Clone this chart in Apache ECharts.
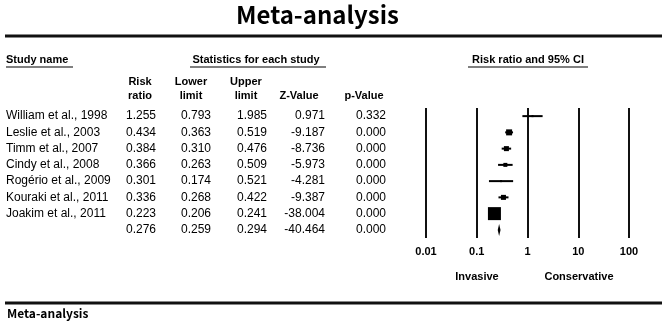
<!DOCTYPE html>
<html>
<head>
<meta charset="utf-8">
<script src="https://cdn.jsdelivr.net/npm/echarts@6/dist/echarts.min.js"></script>
<style>
  html, body { margin: 0; padding: 0; background: #fff; }
  #forest { width: 666px; height: 327px; }
</style>
</head>
<body>
<div id="forest"></div>
<script>
// forest plot: risk ratio and 95% CI per study
const studies = ['William et al., 1998', 'Leslie et al., 2003', 'Timm et al., 2007', 'Cindy et al., 2008',
  'Rogério et al., 2009', 'Kouraki et al., 2011', 'Joakim et al., 2011', ''];
const riskRatio = [1.255, 0.434, 0.384, 0.366, 0.301, 0.336, 0.223, 0.276];
const lowerLimit = [0.793, 0.363, 0.310, 0.263, 0.174, 0.268, 0.206, 0.259];
const upperLimit = [1.985, 0.519, 0.476, 0.509, 0.521, 0.422, 0.241, 0.294];
const zValue = ['0.971', '-9.187', '-8.736', '-5.973', '-4.281', '-9.387', '-38.004', '-40.464'];
const pValue = ['0.332', '0.000', '0.000', '0.000', '0.000', '0.000', '0.000', '0.000'];
const weight = [1.4, 12.9, 9.0, 5.7, 1.4, 9.0, 60.6]; // relative weight (%)
const xTicks = ['0.01', '0.1', '1', '10', '100'];

const FONT = 'Liberation Sans';
const maxW = Math.max(...weight);

const rowIdx = studies.map((s, i) => i);
const tableData = rowIdx.map(i => [1, i]);
const studyData = weight.map((w, i) => [lowerLimit[i], upperLimit[i], riskRatio[i], i, w]);
const last = studies.length - 1;
const summaryData = [[lowerLimit[last], upperLimit[last], riskRatio[last], last]];

function txt(x, y, text, opt) {
  return {
    type: 'text', x: x, y: y,
    style: Object.assign({
      text: text, fill: '#000', font: '12px "' + FONT + '"',
      align: 'left', verticalAlign: 'middle'
    }, opt || {})
  };
}
const bold = '11px "' + FONT + '"';

const chart = echarts.init(document.getElementById('forest'));
const option = {
  backgroundColor: '#fff',
  animation: false,
  grid: { left: 426, right: 37, top: 108, bottom: 89 },
  xAxis: {
    type: 'log', logBase: 10, min: 0.01, max: 100,
    axisLine: { show: false }, axisTick: { show: false },
    splitLine: { show: true, showMinLine: true, showMaxLine: true, lineStyle: { color: '#111', width: 2 } },
    axisLabel: {
      margin: 8, color: '#000', fontFamily: FONT, fontWeight: 'bold', fontSize: 11,
      formatter: (v) => xTicks[Math.round(Math.log10(v)) + 2]
    }
  },
  yAxis: {
    type: 'category', data: rowIdx, inverse: true,
    axisLine: { show: false }, axisTick: { show: false }, axisLabel: { show: false },
    splitLine: { show: false }
  },
  graphic: [
    { type: 'text', left: 236, top: 3, style: { text: 'Meta-analysis', font: 'bold 24px "Noto Sans CJK KR"', fill: '#000' } },
    { type: 'line', shape: { x1: 5, y1: 36, x2: 662, y2: 36 }, style: { stroke: '#111', lineWidth: 3 } },
    { type: 'line', shape: { x1: 5, y1: 303, x2: 662, y2: 303 }, style: { stroke: '#111', lineWidth: 3 } },
    { type: 'text', left: 7, top: 307, style: { text: 'Meta-analysis', font: 'bold 12px "Noto Sans CJK KR"', fill: '#000' } },
    txt(6, 60, 'Study name', { font: 'bold ' + bold }),
    txt(256, 60, 'Statistics for each study', { font: 'bold ' + bold, align: 'center' }),
    txt(528, 60, 'Risk ratio and 95% CI', { font: 'bold ' + bold, align: 'center' }),
    { type: 'line', shape: { x1: 6, y1: 67, x2: 73, y2: 67 }, style: { stroke: '#555', lineWidth: 1.5 } },
    { type: 'line', shape: { x1: 190, y1: 67, x2: 326, y2: 67 }, style: { stroke: '#555', lineWidth: 1.5 } },
    { type: 'line', shape: { x1: 468, y1: 67, x2: 588, y2: 67 }, style: { stroke: '#555', lineWidth: 1.5 } },
    txt(140, 82, 'Risk', { font: 'bold ' + bold, align: 'center' }),
    txt(140, 96, 'ratio', { font: 'bold ' + bold, align: 'center' }),
    txt(191, 82, 'Lower', { font: 'bold ' + bold, align: 'center' }),
    txt(191, 96, 'limit', { font: 'bold ' + bold, align: 'center' }),
    txt(246, 82, 'Upper', { font: 'bold ' + bold, align: 'center' }),
    txt(246, 96, 'limit', { font: 'bold ' + bold, align: 'center' }),
    txt(299, 96, 'Z-Value', { font: 'bold ' + bold, align: 'center' }),
    txt(364, 96, 'p-Value', { font: 'bold ' + bold, align: 'center' }),
    txt(477, 277, 'Invasive', { font: 'bold ' + bold, align: 'center' }),
    txt(579, 277, 'Conservative', { font: 'bold ' + bold, align: 'center' })
  ],
  series: [
    {
      // table columns, rows share the forest y axis
      type: 'custom', clip: false, silent: true,
      data: tableData,
      encode: { x: 0, y: 1 },
      renderItem: (params, api) => {
        const i = api.value(1);
        const y = api.coord([1, i])[1];
        return {
          type: 'group',
          children: [
            txt(6, y, studies[i]),
            txt(156, y, riskRatio[i].toFixed(3), { align: 'right' }),
            txt(211, y, lowerLimit[i].toFixed(3), { align: 'right' }),
            txt(267, y, upperLimit[i].toFixed(3), { align: 'right' }),
            txt(325, y, zValue[i], { align: 'right' }),
            txt(386, y, pValue[i], { align: 'right' })
          ]
        };
      }
    },
    {
      type: 'custom', clip: false,
      data: studyData,
      encode: { x: [0, 1, 2], y: 3 },
      renderItem: (params, api) => {
        const i = api.value(3);
        const p1 = api.coord([api.value(0), i]);
        const p2 = api.coord([api.value(1), i]);
        const pc = api.coord([api.value(2), i]);
        const s = Math.max(2, 13 * Math.sqrt(api.value(4) / maxW));
        return {
          type: 'group',
          children: [
            { type: 'line', shape: { x1: p1[0], y1: p1[1], x2: p2[0], y2: p2[1] }, style: { stroke: '#000', lineWidth: 2 } },
            { type: 'rect', shape: { x: pc[0] - s / 2, y: pc[1] - s / 2, width: s, height: s }, style: { fill: '#000' } }
          ]
        };
      }
    },
    {
      type: 'custom', clip: false,
      data: summaryData,
      encode: { x: [0, 1, 2], y: 3 },
      renderItem: (params, api) => {
        const i = api.value(3);
        const pl = api.coord([api.value(0), i]);
        const pu = api.coord([api.value(1), i]);
        const pc = api.coord([api.value(2), i]);
        const h = 6;
        return {
          type: 'polygon',
          shape: { points: [[pl[0], pl[1]], [pc[0], pc[1] - h], [pu[0], pu[1]], [pc[0], pc[1] + h]] },
          style: { fill: '#000' }
        };
      }
    }
  ]
};
chart.setOption(option);
</script>
</body>
</html>
